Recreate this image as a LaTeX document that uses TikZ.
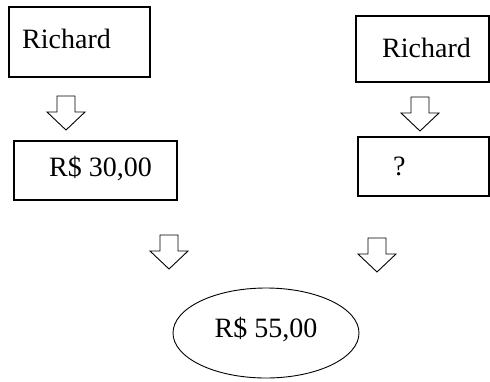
\documentclass[tikz,border=0pt]{standalone}
\usepackage{fontspec}
\setmainfont{Liberation Serif}
\begin{document}
\begin{tikzpicture}[x=1pt,y=-1pt,line join=miter,
  box/.style={draw,line width=1.4pt},
  arr/.style={draw,line width=0.9pt},
  txt/.style={anchor=base west,inner sep=0pt,font=\fontsize{28}{32}\selectfont},
  pics/darrow/.style={code={
    \draw[arr] (-9,0) -- (9,0) -- (9,16) -- (19,16) -- (0,34) -- (-19,16) -- (-9,16) -- cycle;}}]
\useasboundingbox (0,0) rectangle (490,381);

% left column
\draw[box] (9,7) rectangle (150,77);
\node[txt] (rich1) at (22,48) {Richard};
\pic at (66,96) {darrow};
\draw[box] (14,141) rectangle (177,200);
\node[txt] (val1) at (49,176) {R\$ 30,00};

% right column
\draw[box] (356,16) rectangle (489,82);
\node[txt] (rich2) at (382,57) {Richard};
\pic at (420,97) {darrow};
\draw[box] (358,137) rectangle (489,196);
\node[txt] (val2) at (393,175) {?};

% total
\pic at (169,235) {darrow};
\pic at (377,238) {darrow};
\draw[arr] (266,333) ellipse (93 and 45);
\node[txt,anchor=base] (sum) at (266,337) {R\$ 55,00};
\end{tikzpicture}
\end{document}
